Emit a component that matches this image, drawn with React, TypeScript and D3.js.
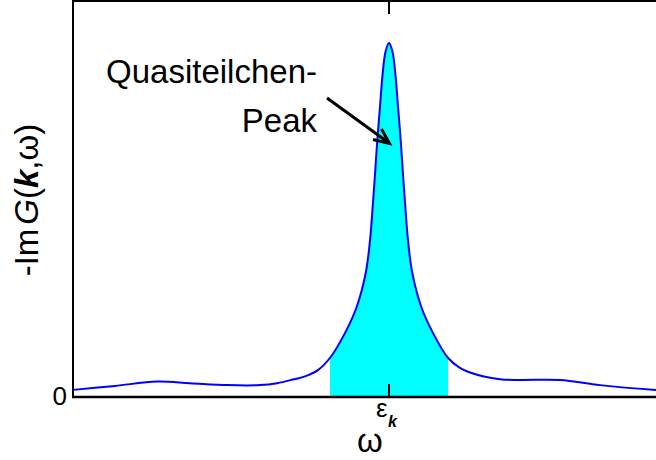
import React from 'react';
import * as d3 from 'd3';

// spectral function, omega relative to eps_k
const omega = [
  -1, -0.867, -0.734, -0.63, -0.513, -0.408, -0.354, -0.3, -0.266, -0.225,
  -0.187, -0.139, -0.102, -0.0737, -0.06, -0.0516, -0.044, -0.037, -0.0285, -0.02,
  -0.011, 0,
  0.011, 0.02, 0.0285, 0.037, 0.044, 0.0516, 0.06, 0.0737, 0.102, 0.139,
  0.187, 0.222, 0.256, 0.351, 0.415, 0.541, 0.668, 0.835, 1,
];
const spectral = [
  0.018, 0.028, 0.039, 0.035, 0.03, 0.03, 0.035, 0.045, 0.052, 0.068,
  0.0985, 0.162, 0.228, 0.313, 0.396, 0.481, 0.566, 0.649, 0.733, 0.817,
  0.872, 0.894,
  0.872, 0.817, 0.733, 0.649, 0.566, 0.481, 0.396, 0.313, 0.228, 0.162,
  0.0985, 0.075, 0.062, 0.045, 0.043, 0.043, 0.03, 0.018, 0.01,
];
const peakWindow = [-0.187, 0.187];
const xTicks = [0];
const yTicks = [0];
const yTickLabels = ['0'];

const W = 656;
const H = 460;
const left = 73;
const top = 1;
const bottom = 397;
const right = 705;

export default function App() {
  const x = d3.scaleLinear().domain([-1, 1]).range([left, right]);
  const y = d3.scaleLinear().domain([0, 1]).range([bottom, top]);
  const pts = omega.map((w, i) => [w, spectral[i]] as [number, number]);

  const line = d3.line<[number, number]>()
    .x(d => x(d[0]))
    .y(d => y(d[1]))
    .curve(d3.curveCatmullRom.alpha(0.5));
  const area = d3.area<[number, number]>()
    .x(d => x(d[0]))
    .y0(y(0))
    .y1(d => y(d[1]))
    .curve(d3.curveCatmullRom.alpha(0.5));

  const font = 'Liberation Sans, Arial, Helvetica, sans-serif';

  return (
    <svg width={W} height={H} style={{ position: 'absolute', left: 0, top: 0 }} fontFamily={font}>
      <defs>
        <clipPath id="peak">
          <rect x={x(peakWindow[0])} y={0} width={x(peakWindow[1]) - x(peakWindow[0])} height={bottom} />
        </clipPath>
      </defs>
      <rect width={W} height={H} fill="#fff" />
      <path d={area(pts) || ''} fill="#00ffff" clipPath="url(#peak)" />
      <path d={line(pts) || ''} fill="none" stroke="#0000ff" strokeWidth={2} />

      {/* frame */}
      <path d={`M${left},${bottom}V${top}H${right}`} fill="none" stroke="#000" strokeWidth={2} />
      <line x1={left - 1} x2={right} y1={bottom} y2={bottom} stroke="#000" strokeWidth={2.5} />

      {xTicks.map(t => (
        <g key={t}>
          <line x1={x(t)} x2={x(t)} y1={bottom} y2={bottom - 13} stroke="#000" strokeWidth={2} />
          <line x1={x(t)} x2={x(t)} y1={top} y2={top + 13} stroke="#000" strokeWidth={2} />
          <text x={x(t) - 13} y={417} fontSize={26}>ε</text>
          <text x={x(t) - 1} y={427} fontSize={16} fontWeight="bold" fontStyle="italic">k</text>
        </g>
      ))}
      {yTicks.map((t, i) => (
        <g key={t}>
          <line x1={left} x2={left + 13} y1={y(t)} y2={y(t)} stroke="#000" strokeWidth={2} />
          <text x={left - 6} y={y(t) + 8} fontSize={26} textAnchor="end">{yTickLabels[i]}</text>
        </g>
      ))}

      <text x={370} y={452} fontSize={33} textAnchor="middle">ω</text>
      <text transform={`translate(38,200) rotate(-90)`} fontSize={33} textAnchor="middle">
        -Im<tspan dx={4} fontStyle="italic">G</tspan>(<tspan fontWeight="bold" fontStyle="italic">k</tspan>,ω)
      </text>

      <text x={317} y={83} fontSize={33} textAnchor="end">Quasiteilchen-</text>
      <text x={317} y={132} fontSize={33} textAnchor="end">Peak</text>
      <line x1={327} y1={98} x2={389} y2={143} stroke="#000" strokeWidth={3} />
      <polyline points="373,139.5 389.5,143.5 381.5,129" fill="none" stroke="#000" strokeWidth={3} />
    </svg>
  );
}
